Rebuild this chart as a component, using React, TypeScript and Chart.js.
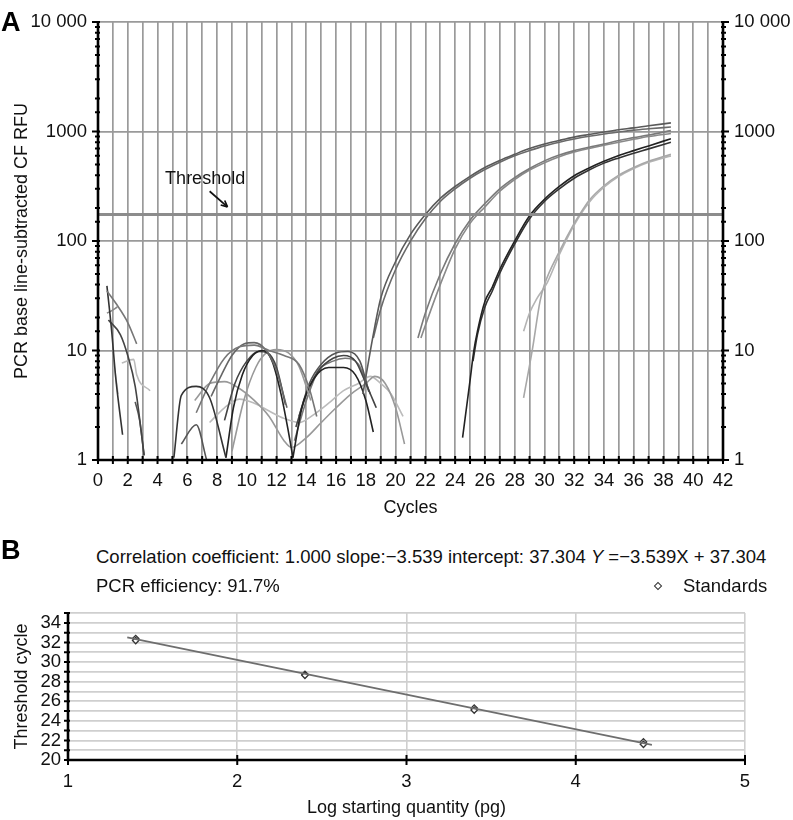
import React, { useEffect, useRef } from "react";
import { Chart, registerables } from "chart.js";

Chart.register(...registerables);

const FONT = "'Liberation Sans', Arial, Helvetica, sans-serif";
Chart.defaults.font.family = FONT;
Chart.defaults.color = "#111";

// ---------------- Panel A data ----------------
const cycleMin = 0;
const cycleMax = 42;
const rfuMin = 1;
const rfuMax = 10000;
const rfuDecades = [1, 10, 100, 1000, 10000];
const rfuDecadeLabels = ["1", "10", "100", "1000", "10 000"];
const thresholdRFU = 175;
const thresholdCycles = [0, 42];

// amplification curves (cycle, RFU)
const amp1aCycles = [17.8, 18.5, 19, 20, 21, 22, 23, 24, 25, 26, 27, 28, 29, 30, 31, 32, 33, 34, 35, 36, 37, 38.5];
const amp1aRFU = [4, 14, 30, 65, 115, 175, 245, 315, 390, 470, 545, 620, 700, 770, 830, 890, 940, 990, 1040, 1080, 1130, 1200];
const amp1bCycles = [18.5, 19, 20, 21, 22, 23, 24, 25, 26, 27, 28, 29, 30, 31, 32, 33, 34, 35, 36, 37, 38.5];
const amp1bRFU = [13, 24, 55, 100, 160, 230, 300, 375, 450, 525, 600, 670, 740, 800, 855, 905, 950, 990, 1030, 1060, 1100];
const amp2aCycles = [21.5, 22, 23, 24, 25, 26, 27, 28, 29, 30, 31, 32, 33, 34, 35, 36, 37, 38.5];
const amp2aRFU = [13, 22, 50, 95, 155, 220, 300, 380, 460, 540, 610, 670, 720, 770, 830, 880, 930, 1020];
const amp2bCycles = [21.7, 22, 23, 24, 25, 26, 27, 28, 29, 30, 31, 32, 33, 34, 35, 36, 37, 38.5];
const amp2bRFU = [13, 17, 40, 85, 145, 205, 285, 365, 445, 520, 590, 650, 700, 750, 800, 850, 900, 960];
const amp3aCycles = [24.5, 25, 25.25, 25.5, 26, 26.5, 27, 28, 29, 30, 31, 32, 33, 34, 35, 36, 37, 38.5];
const amp3aRFU = [1.6, 5.3, 9.8, 15, 28, 38, 55, 100, 170, 240, 315, 395, 465, 535, 605, 670, 740, 860];
const amp3bCycles = [25.2, 25.5, 26, 26.5, 27, 28, 29, 30, 31, 32, 33, 34, 35, 36, 37, 38.5];
const amp3bRFU = [8, 14, 25, 35, 51, 94, 160, 230, 300, 375, 445, 515, 575, 635, 695, 800];
const amp4aCycles = [28.6, 29.2, 29.7, 30, 31, 32, 32.4, 33, 34, 35, 36, 37, 38.5];
const amp4aRFU = [3.7, 10.4, 28, 40, 80, 145, 178, 235, 320, 400, 470, 535, 620];
const amp4bCycles = [28.6, 29, 29.5, 30.2, 31, 32, 33, 34, 35, 36, 37, 38.5];
const amp4bRFU = [15, 22, 30, 42, 75, 140, 225, 310, 390, 460, 525, 600];

// baseline noise traces (cycle, RFU)
const noiseACycles = [0.6, 1.2, 2.0, 2.6];
const noiseARFU = [35, 27, 18, 11.5];
const noiseBCycles = [0.6, 0.9, 1.2, 1.65];
const noiseBRFU = [39, 16, 5.5, 1.7];
const noiseCCycles = [0.7, 1.5, 2.0, 2.5, 3.1];
const noiseCRFU = [19, 14, 9, 4.7, 1.1];
const noiseDCycles = [0.6, 0.9, 1.3];
const noiseDRFU = [22, 23, 25];
const noiseECycles = [1.6, 2.4, 2.6, 3.5];
const noiseERFU = [7.7, 8.3, 6, 4.3];
const noiseFCycles = [2.5, 2.8, 3.1];
const noiseFRFU = [3.4, 2.3, 1.1];
const noiseGCycles = [1.1, 1.35];
const noiseGRFU = [7, 4];
const noiseM1Cycles = [5.1, 5.6, 6.6, 7.5, 8.6];
const noiseM1RFU = [1.05, 3.9, 4.7, 3.7, 1.05];
const noiseM2Cycles = [5.6, 6.6, 7.3];
const noiseM2RFU = [1.4, 2.1, 1.0];
const noiseB1Cycles = [6.6, 7.5, 8.5, 9.5, 10.5, 11.5, 12.5, 13.5, 14.2, 14.7];
const noiseB1RFU = [2.7, 5, 8.5, 10.8, 11.2, 10, 9, 7.5, 4.5, 2.5];
const noiseB2Cycles = [7.6, 8.3, 9.0, 9.8, 10.5, 11.3, 12.0, 12.7];
const noiseB2RFU = [3.8, 6, 9, 11.5, 11.8, 10, 6.5, 3];
const noiseB3Cycles = [8.6, 9.1, 9.7, 10.4, 11.1, 11.7, 12.3, 12.8, 13.1];
const noiseB3RFU = [1.05, 3, 6, 9, 10, 8, 4, 1.8, 1.05];
const noiseB4Cycles = [8.5, 9.2, 10.0, 10.8, 11.4, 12.0, 12.6];
const noiseB4RFU = [2.3, 5, 8, 9.8, 9.5, 7, 3.2];
const noiseB5Cycles = [9.0, 9.8, 10.6, 11.3, 12.0, 12.8, 13.5, 14.3];
const noiseB5RFU = [1.2, 3.5, 7, 9.5, 10.2, 9.5, 7.2, 3.5];
const noiseC1Cycles = [13.1, 13.7, 14.5, 15.5, 16.5, 17.3, 18.0, 18.5];
const noiseC1RFU = [1.05, 3, 5.5, 7, 7, 6, 3.5, 1.8];
const noiseC2Cycles = [13.3, 14.0, 14.8, 15.8, 16.5, 17.3, 18.0, 18.7];
const noiseC2RFU = [2, 4, 6.5, 8.5, 9, 8, 5, 3];
const noiseC3Cycles = [13.5, 14.2, 15.0, 16.0, 16.8, 17.6, 18.2];
const noiseC3RFU = [2.5, 5, 7.5, 9.5, 9.8, 8, 4.2];
const noiseC4Cycles = [13.2, 14.0, 14.8, 15.8, 16.6, 17.5, 18.3];
const noiseC4RFU = [1.5, 3.5, 6.5, 8, 8.5, 7.5, 4];
const noiseW1Cycles = [6.5, 7.5, 8.5, 9.5, 10.5, 11.5, 12.5, 13.0, 14.0, 15.0, 16.0, 17.0, 18.0, 18.6, 19.3, 20.0, 20.6];
const noiseW1RFU = [3.5, 5, 5.2, 4.5, 3.5, 2.5, 1.5, 1.3, 1.6, 2.2, 3, 4, 5, 5.8, 5, 3, 1.4];
const noiseW2Cycles = [7.5, 8.5, 9.5, 10.5, 11.5, 12.5, 13.5, 14.5, 15.5, 16.5, 17.5, 18.3, 19.0, 19.7, 20.5];
const noiseW2RFU = [2.2, 3, 3.6, 3.3, 2.8, 2.4, 2.2, 2.6, 3.3, 4.3, 5, 5.8, 5, 4, 2.5];

const curveCycles = [
  amp1aCycles, amp1bCycles, amp2aCycles, amp2bCycles, amp3aCycles, amp3bCycles, amp4aCycles, amp4bCycles,
  noiseACycles, noiseBCycles, noiseCCycles, noiseDCycles, noiseECycles, noiseFCycles, noiseGCycles,
  noiseM1Cycles, noiseM2Cycles, noiseB1Cycles, noiseB2Cycles, noiseB3Cycles, noiseB4Cycles, noiseB5Cycles,
  noiseC1Cycles, noiseC2Cycles, noiseC3Cycles, noiseC4Cycles, noiseW1Cycles, noiseW2Cycles,
];
const curveRFU = [
  amp1aRFU, amp1bRFU, amp2aRFU, amp2bRFU, amp3aRFU, amp3bRFU, amp4aRFU, amp4bRFU,
  noiseARFU, noiseBRFU, noiseCRFU, noiseDRFU, noiseERFU, noiseFRFU, noiseGRFU,
  noiseM1RFU, noiseM2RFU, noiseB1RFU, noiseB2RFU, noiseB3RFU, noiseB4RFU, noiseB5RFU,
  noiseC1RFU, noiseC2RFU, noiseC3RFU, noiseC4RFU, noiseW1RFU, noiseW2RFU,
];
const curveColors = [
  "#5a5a5a", "#6a6a6a", "#7a7a7a", "#8a8a8a", "#222222", "#333333", "#a8a8a8", "#b4b4b4",
  "#777777", "#333333", "#444444", "#888888", "#bbbbbb", "#555555", "#cccccc",
  "#333333", "#555555", "#777777", "#666666", "#222222", "#444444", "#999999",
  "#222222", "#444444", "#555555", "#777777", "#999999", "#bbbbbb",
];

// ---------------- Panel B data ----------------
const logQtyMin = 1;
const logQtyMax = 5;
const ctMin = 20;
const ctMax = 35;
const standardsLogQty = [1.4, 1.4, 2.4, 2.4, 3.4, 3.4, 4.4, 4.4];
const standardsCt = [32.4, 32.2, 28.75, 28.65, 25.3, 25.1, 21.85, 21.6];
const fitLogQty = [1.35, 4.45];
const fitCt = [32.53, 21.55];

const TICK_SIZE = 18.5;
const TITLE_SIZE = 18;

const isDecade = (v: number) => rfuDecades.some((d) => Math.abs(d - v) < 1e-6 * d);
const decadeLabel = (v: number) => {
  const i = rfuDecades.findIndex((d) => Math.abs(d - v) < 1e-6 * d);
  return i >= 0 ? rfuDecadeLabels[i] : "";
};

const axesA = {
  id: "axesA",
  afterDatasetsDraw(chart: any) {
    const { ctx, chartArea, scales } = chart;
    const { left, right, top, bottom } = chartArea;
    const x = scales.x;
    const y = scales.y;
    ctx.save();
    // threshold annotation
    ctx.fillStyle = "#111";
    ctx.font = `18px ${FONT}`;
    ctx.textAlign = "center";
    ctx.textBaseline = "middle";
    ctx.fillText("Threshold", x.getPixelForValue(7.2), y.getPixelForValue(370));
    const ax0 = x.getPixelForValue(7.5), ay0 = y.getPixelForValue(285);
    const ax1 = x.getPixelForValue(8.7), ay1 = y.getPixelForValue(205);
    ctx.strokeStyle = "#111";
    ctx.lineWidth = 1.7;
    ctx.beginPath();
    ctx.moveTo(ax0, ay0);
    ctx.lineTo(ax1, ay1);
    ctx.stroke();
    const ang = Math.atan2(ay1 - ay0, ax1 - ax0);
    ctx.beginPath();
    ctx.moveTo(ax1, ay1);
    ctx.lineTo(ax1 - 7 * Math.cos(ang - 0.45), ay1 - 7 * Math.sin(ang - 0.45));
    ctx.moveTo(ax1, ay1);
    ctx.lineTo(ax1 - 7 * Math.cos(ang + 0.45), ay1 - 7 * Math.sin(ang + 0.45));
    ctx.stroke();
    // axes
    ctx.strokeStyle = "#000";
    ctx.lineWidth = 2.6;
    ctx.beginPath();
    ctx.moveTo(left, top - 1);
    ctx.lineTo(left, bottom);
    ctx.lineTo(right, bottom);
    ctx.lineTo(right, top - 1);
    ctx.stroke();
    ctx.lineWidth = 2;
    ctx.beginPath();
    y.ticks.forEach((t: any) => {
      const py = y.getPixelForValue(t.value);
      const major = isDecade(t.value);
      ctx.moveTo(left - (major ? 6 : 3), py);
      ctx.lineTo(left + 2, py);
      ctx.moveTo(right - 2, py);
      ctx.lineTo(right + (major ? 6 : 3), py);
    });
    x.ticks.forEach((t: any) => {
      const px = x.getPixelForValue(t.value);
      ctx.moveTo(px, bottom - 4);
      ctx.lineTo(px, bottom + 4);
    });
    ctx.stroke();
    ctx.restore();
  },
};

const axesB = {
  id: "axesB",
  afterDatasetsDraw(chart: any) {
    const { ctx, chartArea, scales } = chart;
    const { left, right, top, bottom } = chartArea;
    const x = scales.x;
    const y = scales.y;
    ctx.save();
    ctx.strokeStyle = "#000";
    ctx.lineWidth = 2.6;
    ctx.beginPath();
    ctx.moveTo(left, top);
    ctx.lineTo(left, bottom);
    ctx.lineTo(right, bottom);
    ctx.stroke();
    ctx.lineWidth = 2;
    ctx.beginPath();
    y.ticks.forEach((t: any) => {
      const py = y.getPixelForValue(t.value);
      ctx.moveTo(left - 4, py);
      ctx.lineTo(left + 2, py);
    });
    x.ticks.forEach((t: any) => {
      const px = x.getPixelForValue(t.value);
      ctx.moveTo(px, bottom - 5);
      ctx.lineTo(px, bottom + 5);
    });
    ctx.stroke();
    ctx.restore();
  },
};

function PanelA() {
  const ref = useRef<HTMLCanvasElement>(null);
  useEffect(() => {
    const datasets: any[] = curveCycles.map((xs, i) => ({
      data: xs.map((c, j) => ({ x: c, y: curveRFU[i][j] })),
      borderColor: curveColors[i],
      borderWidth: 1.6,
      pointRadius: 0,
      cubicInterpolationMode: "monotone",
      fill: false,
    }));
    datasets.unshift({
      data: thresholdCycles.map((c) => ({ x: c, y: thresholdRFU })),
      borderColor: "#8c8c8c",
      borderWidth: 3,
      pointRadius: 0,
      fill: false,
    });
    const chart = new Chart(ref.current!, {
      type: "line",
      data: { datasets },
      plugins: [axesA],
      options: {
        animation: false,
        responsive: false,
        events: [],
        layout: { padding: { top: 16, left: 0, right: 0, bottom: 0 } },
        plugins: { legend: { display: false }, tooltip: { enabled: false } },
        scales: {
          x: {
            type: "linear",
            min: cycleMin,
            max: cycleMax,
            afterFit: (s: any) => { s.height = 70; },
            grid: { color: (c: any) => (c.tick && (c.tick.value === 0 || c.tick.value === 42) ? "rgba(0,0,0,0)" : "#9a9a9a"), lineWidth: 1.7, drawTicks: false },
            border: { display: false },
            ticks: {
              stepSize: 1,
              autoSkip: false,
              maxRotation: 0,
              minRotation: 0,
              padding: 10,
              color: "#111",
              font: { size: TICK_SIZE },
              callback: (v: any) => (Number(v) % 2 === 0 ? String(v) : ""),
            },
            title: { display: true, text: "Cycles", color: "#111", font: { size: TITLE_SIZE }, padding: { top: 0, bottom: 11 } },
          },
          y: {
            type: "logarithmic",
            position: "left",
            min: rfuMin,
            max: rfuMax,
            afterFit: (s: any) => { s.width = 98; },
            grid: { color: (c: any) => (c.tick && isDecade(c.tick.value) && c.tick.value !== 1 ? "#9a9a9a" : "rgba(0,0,0,0)"), lineWidth: 1.8, drawTicks: false },
            border: { display: false },
            ticks: { autoSkip: false, padding: 11, color: "#111", font: { size: TICK_SIZE }, callback: (v: any) => decadeLabel(Number(v)) },
            title: { display: true, text: "PCR base line-subtracted CF RFU", color: "#111", font: { size: TITLE_SIZE }, padding: { top: 11, bottom: 0 } },
          },
          y2: {
            type: "logarithmic",
            position: "right",
            min: rfuMin,
            max: rfuMax,
            afterFit: (s: any) => { s.width = 70; },
            grid: { display: false, drawTicks: false },
            border: { display: false },
            ticks: { autoSkip: false, padding: 11, color: "#111", font: { size: TICK_SIZE }, callback: (v: any) => decadeLabel(Number(v)) },
          },
        },
      } as any,
    });
    return () => chart.destroy();
  }, []);
  return <canvas ref={ref} width={793} height={530} style={{ display: "block", width: 793, height: 530 }} />;
}

function PanelB() {
  const ref = useRef<HTMLCanvasElement>(null);
  useEffect(() => {
    const chart = new Chart(ref.current!, {
      type: "line",
      data: {
        datasets: [
          {
            label: "Fit",
            data: fitLogQty.map((q, i) => ({ x: q, y: fitCt[i] })),
            borderColor: "#6e6e6e",
            borderWidth: 1.8,
            pointRadius: 0,
            fill: false,
          },
          {
            label: "Standards",
            data: standardsLogQty.map((q, i) => ({ x: q, y: standardsCt[i] })),
            showLine: false,
            pointStyle: "rectRot",
            pointRadius: 3.2,
            pointBackgroundColor: "#ffffff",
            pointBorderColor: "#333333",
            pointBorderWidth: 1.3,
          },
        ],
      },
      plugins: [axesB],
      options: {
        animation: false,
        responsive: false,
        events: [],
        layout: { padding: { top: 13, left: 0, right: 48, bottom: 0 } },
        plugins: { legend: { display: false }, tooltip: { enabled: false } },
        scales: {
          x: {
            type: "linear",
            min: logQtyMin,
            max: logQtyMax,
            afterFit: (s: any) => { s.height = 60; },
            grid: { color: (c: any) => (c.tick && c.tick.value === 1 ? "rgba(0,0,0,0)" : "#cfcfcf"), lineWidth: 1.6, drawTicks: false },
            border: { display: false },
            ticks: { stepSize: 1, autoSkip: false, maxRotation: 0, padding: 11, color: "#111", font: { size: TICK_SIZE } },
            title: { display: true, text: "Log starting quantity (pg)", color: "#111", font: { size: TITLE_SIZE }, padding: { top: 0, bottom: 1 } },
          },
          y: {
            type: "linear",
            min: ctMin,
            max: ctMax,
            afterFit: (s: any) => { s.width = 68; },
            grid: { color: "#cfcfcf", lineWidth: 1.8, drawTicks: false },
            border: { display: false },
            ticks: {
              stepSize: 1,
              autoSkip: false,
              padding: 7,
              color: "#111",
              font: { size: TICK_SIZE },
              callback: (v: any) => (Number(v) % 2 === 0 ? String(v) : ""),
            },
            title: { display: true, text: "Threshold cycle", color: "#111", font: { size: TITLE_SIZE }, padding: { top: 11, bottom: 0 } },
          },
        },
      } as any,
    });
    return () => chart.destroy();
  }, []);
  return <canvas ref={ref} width={793} height={225} style={{ display: "block", width: 793, height: 225 }} />;
}

const textStyle: React.CSSProperties = {
  position: "absolute",
  fontFamily: FONT,
  fontSize: 18.5,
  lineHeight: "20px",
  color: "#111",
  whiteSpace: "nowrap",
};

export default function App() {
  return (
    <div style={{ position: "absolute", left: 0, top: 0, width: 793, height: 820, background: "#fff", overflow: "hidden" }}>
      <div style={{ position: "absolute", left: 0, top: 0 }}>
        <PanelA />
      </div>
      <div style={{ position: "absolute", left: 0, top: 595 }}>
        <PanelB />
      </div>
      <div style={{ ...textStyle, left: 1, top: 7, fontSize: 27, lineHeight: "30px", fontWeight: "bold", color: "#000" }}>A</div>
      <div style={{ ...textStyle, left: 1, top: 535, fontSize: 27, lineHeight: "30px", fontWeight: "bold", color: "#000" }}>B</div>
      <div style={{ ...textStyle, left: 96, top: 547 }}>
        Correlation coefficient: 1.000 slope:−3.539 intercept: 37.304 <i>Y</i> =−3.539X + 37.304
      </div>
      <div style={{ ...textStyle, left: 96, top: 576 }}>PCR efficiency: 91.7%</div>
      <div style={{ ...textStyle, left: 655, top: 576, display: "flex", alignItems: "center", height: 20 }}>
        <span
          style={{
            display: "inline-block",
            width: 4,
            height: 4,
            border: "1.3px solid #333",
            transform: "rotate(45deg)",
            marginRight: 22,
          }}
        />
        <span>Standards</span>
      </div>
    </div>
  );
}
